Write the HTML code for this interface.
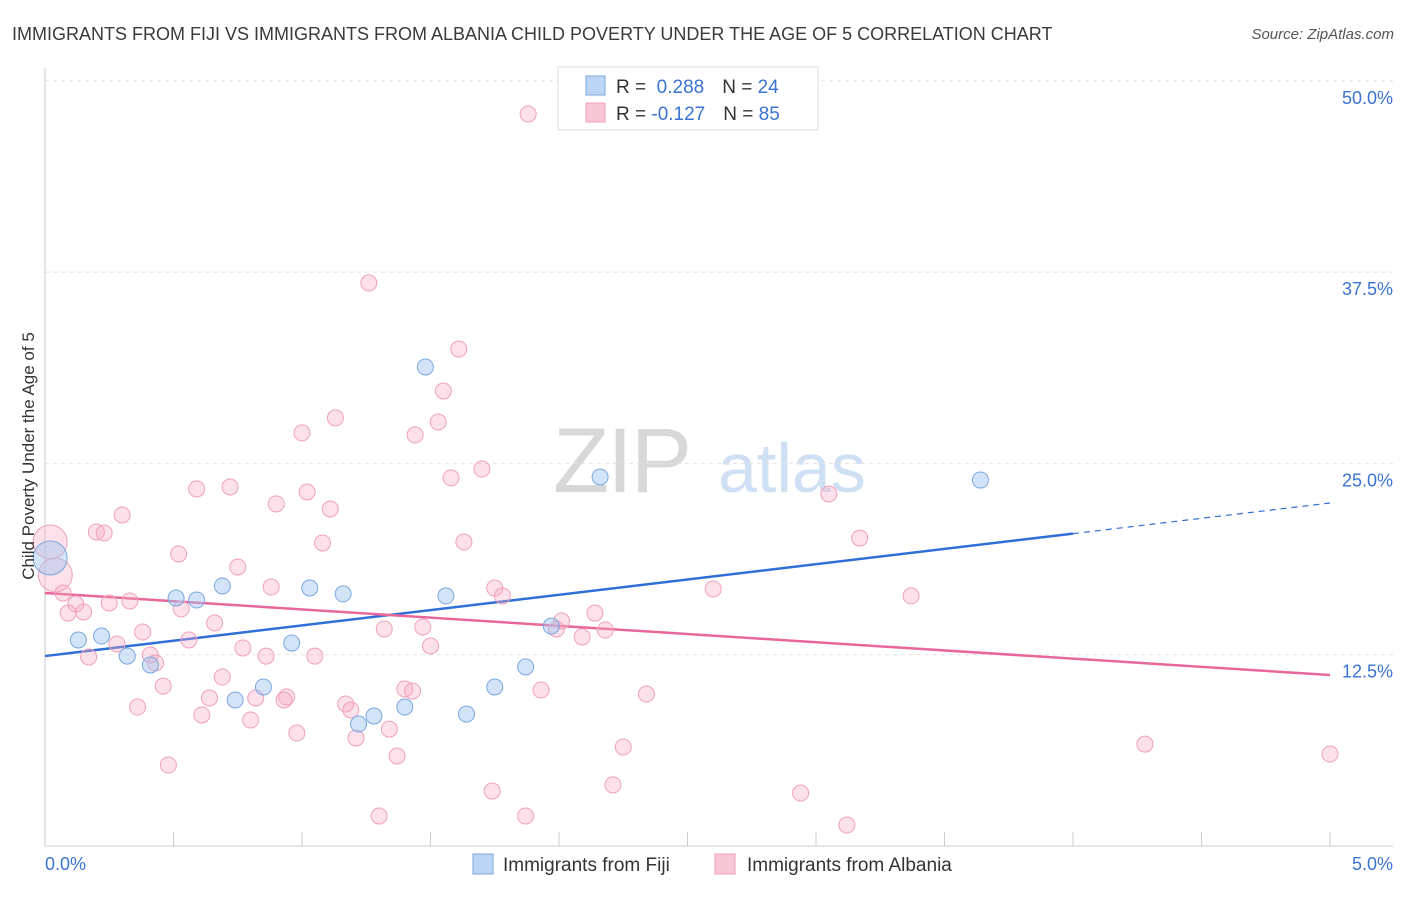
<!DOCTYPE html>
<html><head><meta charset="utf-8"><style>
body{margin:0;background:#fff;font-family:"Liberation Sans",sans-serif}
svg text{font-family:"Liberation Sans",sans-serif}
</style></head><body>
<svg id="chart" width="1406" height="892" xmlns="http://www.w3.org/2000/svg">
<text x="12" y="40" font-size="18" fill="#3a3a3a">IMMIGRANTS FROM FIJI VS IMMIGRANTS FROM ALBANIA CHILD POVERTY UNDER THE AGE OF 5 CORRELATION CHART</text>
<text x="1394" y="39" font-size="15" fill="#555" text-anchor="end" font-style="italic">Source: ZipAtlas.com</text>
<g>
<text x="553" y="492" font-size="92" fill="#d8d8d8" font-family="Liberation Serif" letter-spacing="-2">ZIP</text>
<text x="718" y="492" font-size="70" fill="#cfe0f4">atlas</text>
</g>
<g id="grid"></g>
<g id="axes"></g>
<g id="trends"></g>
<g id="points"></g>
<text transform="translate(34,456) rotate(-90)" font-size="17" fill="#333" text-anchor="middle">Child Poverty Under the Age of 5</text>
<g>
<rect x="558" y="67" width="260" height="63" fill="#fff" stroke="#ddd"/>
<rect x="586" y="76" width="19" height="19" fill="#bcd5f5" stroke="#7aa7e0"/>
<rect x="586" y="103" width="19" height="19" fill="#f8c6d5" stroke="#f0a0bb"/>
<text x="616" y="93" font-size="19" fill="#333">R = <tspan fill="#3a74d0">&#160;0.288</tspan><tspan dx="18">N = </tspan><tspan fill="#3a74d0">24</tspan></text>
<text x="616" y="120" font-size="19" fill="#333">R = <tspan fill="#3a74d0">-0.127</tspan><tspan dx="18">N = </tspan><tspan fill="#3a74d0">85</tspan></text>
</g>
<g>
<rect x="473" y="854" width="20" height="20" fill="#bcd5f5" stroke="#7aa7e0"/>
<text x="503" y="871" font-size="19" fill="#333">Immigrants from Fiji</text>
<rect x="715" y="854" width="20" height="20" fill="#f8c6d5" stroke="#f0a0bb"/>
<text x="747" y="871" font-size="19" fill="#333">Immigrants from Albania</text>
</g>
</svg>
<script>
const fijiX=[0.02,0.13,0.22,0.32,0.41,0.51,0.59,0.69,0.74,0.85,0.96,1.03,1.16,1.22,1.28,1.40,1.48,1.56,1.64,1.75,1.87,1.97,2.16,3.64];
const fijiY=[18.82,13.46,13.72,12.41,11.83,16.20,16.07,16.99,9.54,10.39,13.26,16.86,16.47,7.97,8.49,9.08,31.30,16.34,8.62,10.39,11.70,14.37,24.11,23.91];
const albX=[1.88,1.26,1.61,1.55,1.13,1.53,1.00,1.44,1.70,1.58,0.59,0.72,1.02,0.90,3.05,1.11,0.30,0.20,0.23,1.08,1.63,3.17,0.02,0.04,0.52,0.75,0.07,0.12,0.88,1.75,1.78,2.60,3.37,0.33,0.25,0.09,0.15,0.53,2.14,2.01,1.32,1.47,2.18,1.99,0.38,2.09,0.28,0.56,0.66,0.77,1.50,0.41,0.17,0.86,1.05,0.43,0.69,0.46,1.40,1.43,1.93,2.34,0.64,0.82,0.94,0.93,1.17,1.19,0.36,0.61,0.80,1.34,0.98,1.21,2.25,4.28,1.37,0.48,5.00,2.21,1.74,2.94,1.30,1.87,3.12];
const albY=[47.83,36.79,32.47,29.73,27.97,27.70,26.99,26.86,24.63,24.05,23.33,23.46,23.13,22.35,23.00,22.02,21.63,20.52,20.45,19.80,19.86,20.12,19.86,17.71,19.08,18.23,16.53,15.81,16.92,16.86,16.34,16.79,16.34,16.01,15.88,15.22,15.29,15.49,15.22,14.70,14.18,14.31,14.11,14.18,13.98,13.66,13.20,13.46,14.57,12.94,13.07,12.48,12.35,12.41,12.41,11.96,11.04,10.45,10.26,10.13,10.19,9.93,9.67,9.67,9.74,9.54,9.28,8.89,9.08,8.56,8.23,7.64,7.38,7.06,6.47,6.66,5.88,5.29,6.01,3.99,3.59,3.46,1.96,1.96,1.37];
const fijiTrend=[12.41,22.41]; // y at x=0 and x=5; solid to x=4
const albTrend=[16.53,11.17];
const yTicks=[12.5,25,37.5,50];
const yTickLabels=["12.5%","25.0%","37.5%","50.0%"];
const xTicks=[0,0.5,1,1.5,2,2.5,3,3.5,4,4.5,5];
const NS="http://www.w3.org/2000/svg";
const sx=v=>45+v*257;
const sy=v=>846-v*15.305;
function mk(tag,attrs,parent){const e=document.createElementNS(NS,tag);for(const k in attrs)e.setAttribute(k,attrs[k]);parent.appendChild(e);return e;}
const grid=document.getElementById('grid'),axes=document.getElementById('axes'),tr=document.getElementById('trends'),pts=document.getElementById('points');
yTicks.forEach((t,i)=>{
 const l=mk('line',{x1:45,x2:1393,y1:sy(t),y2:sy(t),stroke:'#e2e2e2','stroke-dasharray':'4,4'},grid);
 
 
 const tx=mk('text',{x:1393,y:sy(t)+23,'font-size':18,fill:'#3a74d0','text-anchor':'end'},axes);
 tx.textContent=yTickLabels[i];
 
 
});
mk('line',{x1:45,x2:45,y1:68,y2:846,stroke:'#ccc'},axes);
mk('line',{x1:45,x2:1393,y1:846,y2:846,stroke:'#ccc'},axes);
xTicks.forEach(t=>{
 const l=mk('line',{x1:sx(t),x2:sx(t),y1:832,y2:846,stroke:'#ccc'},axes);
 
 
});
const x0=mk('text',{x:45,y:870,'font-size':18,fill:'#3a74d0'},axes);x0.textContent='0.0%';


const x1=mk('text',{x:1393,y:870,'font-size':18,fill:'#3a74d0','text-anchor':'end'},axes);x1.textContent='5.0%';


function addPts(xs,ys,fill,stroke,name){
 xs.forEach((x,i)=>{
  const big=(x<0.05);
  const c=mk('circle',{cx:sx(x),cy:sy(ys[i]),r:big?17:8,fill:fill,stroke:stroke,'stroke-width':1},pts);
  
  
 });
}
addPts(albX,albY,'rgba(246,170,196,0.35)','#f0a0bb','albania-point');
addPts(fijiX,fijiY,'rgba(160,196,240,0.45)','#7aa7e0','fiji-point');
const fy4=fijiTrend[0]+(fijiTrend[1]-fijiTrend[0])*0.8;
const fl=mk('line',{x1:sx(0),y1:sy(fijiTrend[0]),x2:sx(4),y2:sy(fy4),stroke:'#2f6fd6','stroke-width':2.5},tr);


const fd=mk('line',{x1:sx(4),y1:sy(fy4),x2:sx(5),y2:sy(fijiTrend[1]),stroke:'#2f6fd6','stroke-width':1.2,'stroke-dasharray':'6,5'},tr);


const al=mk('line',{x1:sx(0),y1:sy(albTrend[0]),x2:sx(5),y2:sy(albTrend[1]),stroke:'#e8679a','stroke-width':2.5},tr);


</script>
</body></html>
